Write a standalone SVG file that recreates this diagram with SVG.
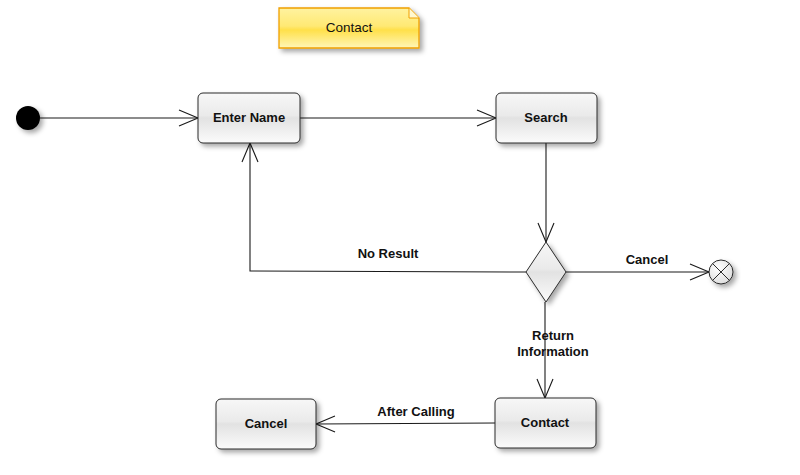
<svg xmlns="http://www.w3.org/2000/svg" width="800" height="475" viewBox="0 0 800 475">
<style>
.box{fill:url(#boxGrad);stroke:#2b2b2b;stroke-width:1;filter:url(#shadow)}
.lbl{font-family:"Liberation Sans",Arial,sans-serif;font-size:13px;font-weight:bold;fill:#111;text-anchor:middle}
.edge{fill:none;stroke:#1a1a1a;stroke-width:1.1;marker-end:url(#arrow)}
</style>
<defs>
<linearGradient id="boxGrad" x1="0" y1="0" x2="0" y2="1">
<stop offset="0" stop-color="#f7f7f7"/>
<stop offset="0.45" stop-color="#eaeaea"/>
<stop offset="0.5" stop-color="#e2e2e2"/>
<stop offset="1" stop-color="#fbfbfb"/>
</linearGradient>
<linearGradient id="noteGrad" x1="0" y1="0" x2="0" y2="1">
<stop offset="0" stop-color="#fff2a0"/>
<stop offset="0.45" stop-color="#ffe974"/>
<stop offset="0.55" stop-color="#ffe04a"/>
<stop offset="1" stop-color="#fff6b8"/>
</linearGradient>
<radialGradient id="endGrad" cx="0.4" cy="0.35" r="0.7">
<stop offset="0" stop-color="#ffffff"/>
<stop offset="1" stop-color="#dcdcdc"/>
</radialGradient>
<filter id="shadow" x="-20%" y="-20%" width="150%" height="160%">
<feDropShadow dx="3" dy="3" stdDeviation="2.5" flood-color="#000" flood-opacity="0.35"/>
</filter>
<marker id="arrow" markerUnits="userSpaceOnUse" markerWidth="24" markerHeight="20" refX="0" refY="0" viewBox="-20 -10 22 20" orient="auto" overflow="visible">
<path d="M-19,-8 L0,0 L-19,8" fill="none" stroke="#1a1a1a" stroke-width="1.1"/>
</marker>
</defs>
<rect width="800" height="475" fill="#ffffff"/>

<g id="note">
<path d="M279,8 H409 L419,18 V48 H279 Z" fill="url(#noteGrad)" stroke="#f0a000" stroke-width="1.3" filter="url(#shadow)"/>
<path d="M409,8 V18 H419" fill="#fff8d0" stroke="#f0a000" stroke-width="1"/>
<text x="349" y="32" font-family="'Liberation Sans',Arial,sans-serif" font-size="13.5" fill="#111" text-anchor="middle">Contact</text>
</g>

<g id="connectors">
<line class="edge" x1="40" y1="118" x2="198" y2="118"/>
<line class="edge" x1="300" y1="118" x2="496" y2="118"/>
<line class="edge" x1="546" y1="143" x2="546" y2="242"/>
<polyline class="edge" points="526,272 250,271 250,143"/>
<line class="edge" x1="566" y1="272" x2="709" y2="272"/>
<line class="edge" x1="545" y1="302" x2="545" y2="398"/>
<line class="edge" x1="495" y1="423" x2="316" y2="424"/>
<text class="lbl" x="388" y="258">No Result</text>
<text class="lbl" x="647" y="264">Cancel</text>
<text class="lbl" x="553" y="340">Return</text>
<text class="lbl" x="553" y="356">Information</text>
<text class="lbl" x="416" y="416">After Calling</text>
</g>

<g id="start">
<circle cx="28" cy="118" r="12" fill="#000" filter="url(#shadow)"/>
</g>

<g id="enter-name">
<rect class="box" x="198" y="93" width="102" height="50" rx="5"/>
<text class="lbl" x="249" y="122">Enter Name</text>
</g>

<g id="search">
<rect class="box" x="496" y="93" width="101" height="50" rx="5"/>
<text class="lbl" x="546" y="122">Search</text>
</g>

<g id="decision">
<path d="M546,242 L566,272 L546,302 L526,272 Z" fill="url(#boxGrad)" stroke="#2b2b2b" stroke-width="1" filter="url(#shadow)"/>
</g>

<g id="final">
<circle cx="721" cy="272" r="12" fill="url(#endGrad)" stroke="#2b2b2b" stroke-width="1" filter="url(#shadow)"/>
<path d="M712.5,263.5 L729.5,280.5 M729.5,263.5 L712.5,280.5" stroke="#2b2b2b" stroke-width="1"/>
</g>

<g id="contact">
<rect class="box" x="495" y="398" width="101" height="50" rx="5"/>
<text class="lbl" x="545" y="427">Contact</text>
</g>

<g id="cancel">
<rect class="box" x="216" y="399" width="100" height="50" rx="5"/>
<text class="lbl" x="266" y="428">Cancel</text>
</g>
</svg>
